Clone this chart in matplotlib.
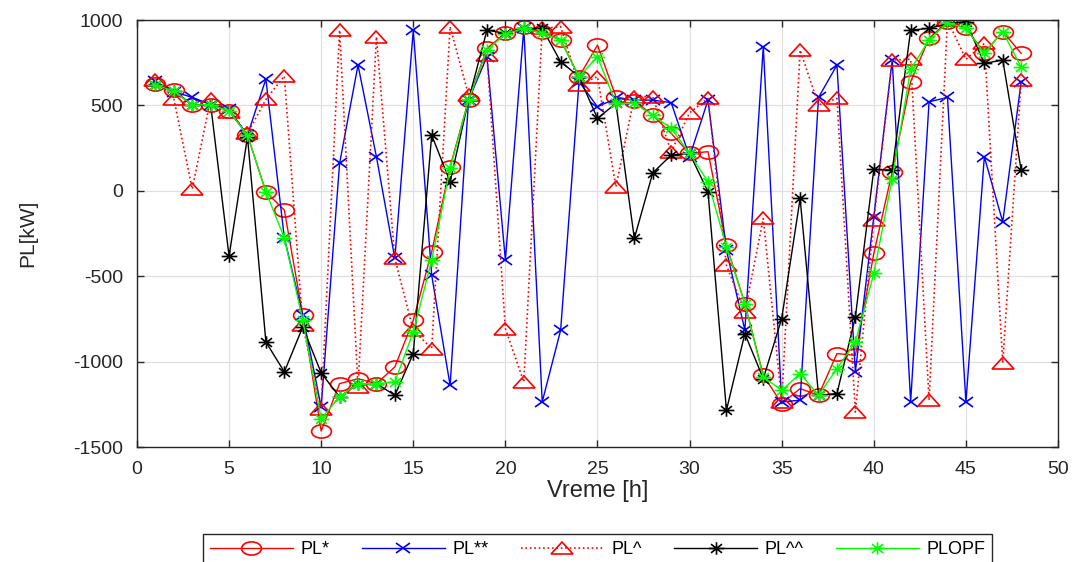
import numpy as np
import matplotlib
matplotlib.use('Agg')
import matplotlib.pyplot as plt
from matplotlib.markers import MarkerStyle
from matplotlib.path import Path
from matplotlib.transforms import Affine2D

plt.rcParams['font.family'] = ['Liberation Sans', 'DejaVu Sans']
plt.rcParams['axes.unicode_minus'] = False

# hours
hours = list(range(1, 49))

pl_star = [625, 590, 502, 505, 467, 326, -6, -113, -728, -1406,
           -1129, -1100, -1129, -1031, -758, -357, 141, 531, 834, 922,
           957, 932, 883, 668, 853, 551, 527, 443, 336, 219,
           229, -318, -660, -1080, -1246, -1158, -1197, -953, -963, -367,
           111, 639, 893, 990, 951, 809, 932, 805]

pl_2star = [640, 580, 547, 505, 477, 326, 654, -275, -728, -1266,
            160, 736, 199, -396, 941, -494, -1139, 531, 785, -406,
            951, -1236, -816, 639, 492, 541, 531, 531, 516, 199,
            531, -348, -816, 844, -1236, -1226, 547, 736, -1060, -152,
            766, -1236, 521, 547, -1236, 199, -182, 639]

pl_hat = [650, 540, 10, 540, 463, 336, 535, 672, -787, -1275,
          941, -1148, 902, -396, -816, -924, 961, 560, 795, -807,
          -1119, 951, 961, 619, 668, 23, 551, 551, 228, 457,
          541, -436, -709, -162, -1236, 824, 502, 541, -1295, -172,
          766, 770, -1226, 1000, 770, 863, -1008, 648]

pl_2hat = [620, 585, 502, 505, -383, 316, -885, -1060, -797, -1066,
           -1207, -1129, -1129, -1197, -953, 326, 53, 531, 941, 922,
           951, 951, 756, 668, 424, 512, -279, 105, 209, 219,
           -6, -1285, -836, -1100, -748, -45, -1197, -1187, -738, 125,
           121, 941, 951, 980, 990, 746, 766, 121]

pl_opf = [620, 585, 502, 505, 467, 326, -6, -275, -758, -1334,
          -1207, -1129, -1129, -1119, -826, -406, 131, 531, 824, 918,
          951, 922, 883, 668, 785, 512, 512, 443, 365, 219,
          53, -328, -660, -1090, -1168, -1070, -1197, -1041, -885, -484,
          72, 711, 883, 984, 951, 805, 932, 723]

labels = ['PL*', 'PL**', 'PL^', 'PL^^', 'PLOPF']

# MATLAB-like asterisk (plus + cross)
d = 0.7
star_path = Path([(-1, 0), (1, 0), (0, -1), (0, 1), (-d, -d), (d, d), (-d, d), (d, -d)],
                 [Path.MOVETO, Path.LINETO] * 4)


def mk(m, sx):
    return MarkerStyle(m, fillstyle='none', transform=Affine2D().scale(sx, 1.0))


fig = plt.figure(figsize=(10.75, 5.62), dpi=100)
ax = fig.add_axes([0.1274, 0.2046, 0.8568, 0.7598])

ax.plot(hours, pl_star, color='red', lw=1.0, marker=mk('o', 1.5), ms=9.5, mew=1.2, label=labels[0])
ax.plot(hours, pl_2star, color='blue', lw=1.0, marker=mk('x', 1.35), ms=7, mew=1.2, label=labels[1])
ax.plot(hours, pl_hat, color='red', lw=1.2, ls=':', marker=mk('^', 1.75), ms=9, mew=1.2, label=labels[2])
ax.plot(hours, pl_2hat, color='black', lw=1.0, marker=mk(star_path, 1.25), ms=9, mew=1.2, label=labels[3])
ax.plot(hours, pl_opf, color='#00ff00', lw=1.0, marker=mk(star_path, 1.25), ms=9, mew=1.2, label=labels[4])

ax.set_xlim(0, 50)
ax.set_ylim(-1500, 1000)
ax.set_xticks(np.arange(0, 51, 5))
ax.set_yticks(np.arange(-1500, 1001, 500))
ax.grid(True, color='0.88', lw=0.9)
ax.set_axisbelow(True)
ax.tick_params(direction='in', top=True, right=True, length=5, width=1,
               labelsize=14, colors='0.15', labelcolor='0.15')
ax.tick_params(axis='x', pad=10)
ax.tick_params(axis='y', pad=10)
for s in ax.spines.values():
    s.set_color('0.15')
    s.set_linewidth(1.0)

ax.set_xlabel('Vreme [h]', fontsize=17, color='0.15')
ax.set_ylabel('PL[kW]', fontsize=15, color='0.15')
ax.xaxis.set_label_coords(0.5, -0.078)
ax.yaxis.set_label_coords(-0.108, 0.5)

leg = fig.legend(loc='upper center', bbox_to_anchor=(0.5558, 0.066), ncol=5,
                 fontsize=13, handlelength=4.6, handletextpad=0.4, columnspacing=1.8,
                 fancybox=False, framealpha=1, edgecolor='0.15', borderpad=0.4)
leg.get_frame().set_linewidth(1.0)

fig.savefig('out.png', dpi=100)
